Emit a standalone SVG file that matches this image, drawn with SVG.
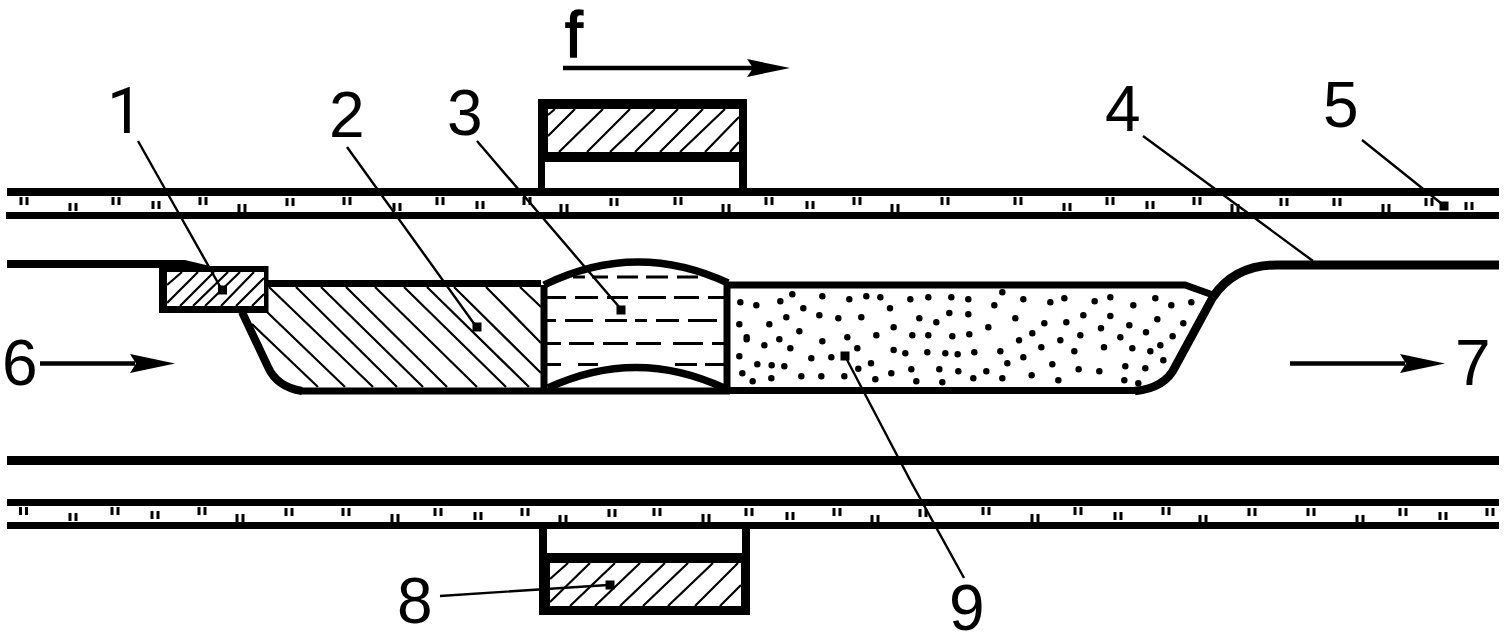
<svg xmlns="http://www.w3.org/2000/svg" width="1510" height="635" viewBox="0 0 1510 635">
<style>
.l{fill:none;stroke:#000;stroke-linecap:butt}
.h{fill:none;stroke:#000;stroke-width:2.2}
.w{fill:none;stroke:#000;stroke-width:7}
.d{fill:none;stroke:#000;stroke-width:3}
.k{fill:#000;stroke:none}
.ld{fill:none;stroke:#000;stroke-width:2.4}
.ar{fill:none;stroke:#000;stroke-width:4.5}
text{font-family:"Liberation Sans",Arial,sans-serif;font-size:64px;fill:#000}
</style>
<defs>
<g id="t"><rect class="k" x="-4.5" y="0" width="3" height="8"/><rect class="k" x="1.5" y="0" width="3" height="8"/></g>
<rect id="sq" class="k" x="-4.5" y="-4.5" width="9" height="9"/>
</defs>
<rect width="1510" height="635" fill="#fff"/>
<g id="pipe-upper">
<rect class="k" x="7" y="188" width="1492" height="8"/>
<rect class="k" x="6" y="212" width="1493" height="7"/>
<use href="#t" x="24" y="197"/><use href="#t" x="73" y="203"/><use href="#t" x="116" y="197"/><use href="#t" x="156" y="201"/><use href="#t" x="203" y="197"/><use href="#t" x="242" y="204"/><use href="#t" x="290" y="198"/><use href="#t" x="347" y="197"/><use href="#t" x="397" y="203"/><use href="#t" x="440" y="197"/><use href="#t" x="480" y="201"/><use href="#t" x="527" y="197"/><use href="#t" x="564" y="204"/><use href="#t" x="614" y="198"/><use href="#t" x="678" y="197"/><use href="#t" x="726" y="204"/><use href="#t" x="769" y="197"/><use href="#t" x="810" y="201"/><use href="#t" x="857" y="197"/><use href="#t" x="895" y="204"/><use href="#t" x="945" y="197"/><use href="#t" x="1018" y="197"/><use href="#t" x="1067" y="203"/><use href="#t" x="1110" y="197"/><use href="#t" x="1150" y="201"/><use href="#t" x="1197" y="197"/><use href="#t" x="1235" y="204"/><use href="#t" x="1284" y="198"/><use href="#t" x="1337" y="198"/><use href="#t" x="1386" y="204"/><use href="#t" x="1429" y="198"/><use href="#t" x="1469" y="202"/>
</g>
<g id="pipe-lower">
<rect class="k" x="7" y="456" width="1492" height="9"/>
<rect class="k" x="7" y="499" width="1492" height="7"/>
<rect class="k" x="7" y="522" width="1492" height="7"/>
<use href="#t" x="23.500" y="507"/><use href="#t" x="73" y="513"/><use href="#t" x="115" y="507"/><use href="#t" x="155" y="511"/><use href="#t" x="202" y="507"/><use href="#t" x="240" y="514"/><use href="#t" x="289" y="508"/><use href="#t" x="346" y="508"/><use href="#t" x="395" y="514"/><use href="#t" x="438" y="508"/><use href="#t" x="478" y="512"/><use href="#t" x="525" y="508"/><use href="#t" x="563" y="515"/><use href="#t" x="612" y="509"/><use href="#t" x="657" y="508"/><use href="#t" x="706" y="514"/><use href="#t" x="749" y="508"/><use href="#t" x="790" y="512"/><use href="#t" x="837" y="508"/><use href="#t" x="875" y="515"/><use href="#t" x="923" y="509"/><use href="#t" x="986" y="507"/><use href="#t" x="1035" y="514"/><use href="#t" x="1078" y="507"/><use href="#t" x="1118" y="512"/><use href="#t" x="1166" y="507"/><use href="#t" x="1203" y="515"/><use href="#t" x="1252" y="508"/><use href="#t" x="1311" y="508"/><use href="#t" x="1360" y="515"/><use href="#t" x="1403" y="508"/><use href="#t" x="1443" y="512"/><use href="#t" x="1490" y="508"/>
</g>
<g id="tube-4">
<polygon class="k" points="7,260 185,260 214,267 214,268 7,268"/>
<path class="l" stroke-width="9" d="M1499 265H1277C1250 265 1228 275 1213 297"/>
<path class="l" stroke-width="8.500" d="M1213 297L1175 367Q1165 388 1135 391"/>
</g>
<g id="part-2">
<path class="h" d="M252 324L318 387M267 312L345 387M269 287L373 387M296 287L397 387M321 287L423 387M346 287L447 387M375 287L477 387M404 287L506 387M427 287L529 387M454 287L541 373M486 287L541 343M520 287L541 307"/>
<path class="w" d="M268 283.500H541"/>
<path class="l" stroke-width="8" d="M242 312L268 367Q277 387 302 391"/>
<path class="w" d="M300 391H541"/>
</g>
<g id="part-1">
<rect class="k" x="159" y="266" width="109.500" height="47"/>
<rect x="167" y="272" width="97" height="34" fill="#fff"/>
<path class="h" d="M167 285L182 272M167 303L198 272M180 306L214 272M193 306L228 272M205 306L240 272M221 306L254 272M236 306L264 278M252 306L264 294"/>
</g>
<g id="part-3">
<path class="d" d="M573 277H585M592 277H608M617 277H638M646 277H668M677 277H698M547 297.500H566M575 297.500H598M607 297.500H628M638 297.500H666M674 297.500H699M708 297.500H724M547 320.500H556M565 320.500H593M605 320.500H627M635 320.500H647M656 320.500H679M688 320.500H717M547 343.500H561M569 343.500H594M603 343.500H628M636 343.500H661M673 343.500H703M712 343.500H724M547 364.500H561M578 364.500H598M675 364.500H697M705 364.500H724"/>
<path class="l" stroke-width="7" d="M544 285V391M727 283V391"/>
<path class="l" stroke-width="7.500" d="M544 285Q636 240 728 283"/>
<path class="l" stroke-width="7.500" d="M548 388Q636 347 724 388"/>
<path class="w" d="M541 391H730"/>
</g>
<g id="part-9">
<path class="w" d="M727 285H1185L1213 295"/>
<path class="w" d="M727 390.500H1140"/>
<g transform="translate(720 275) scale(.3333)">
<path fill="none" stroke="#000" stroke-width="19.500" stroke-linecap="round" d="M61 82h0M109 91h0M181 79h0M217 58h0M307 64h0M388 73h0M439 64h0M481 67h0M571 73h0M625 67h0M694 67h0M745 73h0M250 100h0M510 100h0M199 127h0M298 121h0M355 130h0M424 127h0M598 130h0M688 114h0M745 118h0M649 142h0M58 148h0M148 148h0M238 169h0M521 157h0M80 187v6M178 193h0M382 187h0M469 181h0M577 181h0M625 181h0M697 184h0M748 178h0M133 211h0M211 220h0M307 199h0M412 220h0M521 225h0M556 235h0M622 232h0M676 235h0M713 238h0M763 232h0M58 244h0M274 250h0M334 247h0M112 268h0M155 271h0M193 274h0M453 265h0M415 281h0M67 295h0M98 319h0M154 310h0M244 304h0M304 304h0M373 304h0M466 313h0M514 295h0M574 283h0M589 319h0M658 283h0M667 322h0M715 289h0M760 310h0"/>
</g>
<g transform="translate(960 275) scale(.3333)">
<path fill="none" stroke="#000" stroke-width="19.500" stroke-linecap="round" d="M127 52h0M190 73h0M103 91h0M271 82h0M313 70h0M404 79h0M451 67h0M520 91h0M586 70h0M634 91h0M694 82h0M166 130h0M370 121h0M451 123h0M592 133h0M253 145h0M319 142h0M423 160h0M508 151h0M670 145h0M85 157h0M217 175h0M361 181h0M481 187h0M558 172h0M638 184h0M177 196h0M301 196h0M244 217h0M432 217h0M517 220h0M601 211h0M571 229h0M121 229h0M343 229h0M190 247h0M610 256h0M142 265h0M277 268h0M79 289h0M356 283h0M418 289h0M496 274h0M556 280h0M127 310h0M215 301h0M295 316h0M493 316h0M535 325h0"/>
</g>
</g>
<g id="magnet-top">
<rect class="k" x="538" y="99" width="209" height="63"/>
<rect x="548" y="109" width="191" height="43" fill="#fff"/>
<path class="h" d="M548 115L555 109M548 136L575 109M559 152L603 109M587 152L630 109M610 152L655 109M635 152L678 109M660 152L703 109M680 152L725 109M705 152L739 117M730 152L739 142"/>
<rect class="k" x="538" y="162" width="7" height="27"/>
<rect class="k" x="739" y="162" width="8" height="27"/>
</g>
<g id="magnet-bottom">
<rect class="k" x="539" y="553" width="211" height="62"/>
<rect x="550" y="563" width="191" height="43" fill="#fff"/>
<path class="h" d="M550 579L568 563M550 602L590 563M570 606L615 563M595 606L640 563M620 606L665 563M643 606L688 563M668 606L713 563M695 606L738 563M720 606L741 585"/>
<rect class="k" x="539" y="528" width="8" height="26"/>
<rect class="k" x="742" y="528" width="8" height="26"/>
</g>
<g id="connectors">
<path class="ld" d="M138 141L222 290M347 147L475 325M477 141L620 308M1143 136L1313 261M1362 140L1442 204M845 356L910 480L964 578M440 596L608 585"/>
<use href="#sq" x="222.500" y="290"/><use href="#sq" x="477" y="327"/><use href="#sq" x="621" y="310"/><use href="#sq" x="1444" y="206"/><use href="#sq" x="845" y="356"/><use href="#sq" x="610" y="585"/>
<path class="ar" d="M563 68H755"/><polygon class="k" points="747,59 790,68 747,77 753,68"/>
<path class="ar" d="M40 363.500H135"/><polygon class="k" points="130,354 175,363.500 130,373 136,363.500"/>
<path class="ar" d="M1290 363.500H1405"/><polygon class="k" points="1400,354 1445,363.500 1400,373 1406,363.500"/>
</g>
<g id="labels">
<text x="107" y="133" style="font-family:Roboto,'Liberation Sans',sans-serif">1</text>
<text x="329" y="137">2</text>
<text x="447" y="135">3</text>
<text x="1105" y="131">4</text>
<text x="1323" y="127">5</text>
<text x="2" y="385">6</text>
<text x="1455" y="385">7</text>
<text x="397" y="623">8</text>
<text x="949" y="630">9</text>
<text x="565" y="57" style="stroke:#000;stroke-width:1.500">f</text>
</g>
</svg>
